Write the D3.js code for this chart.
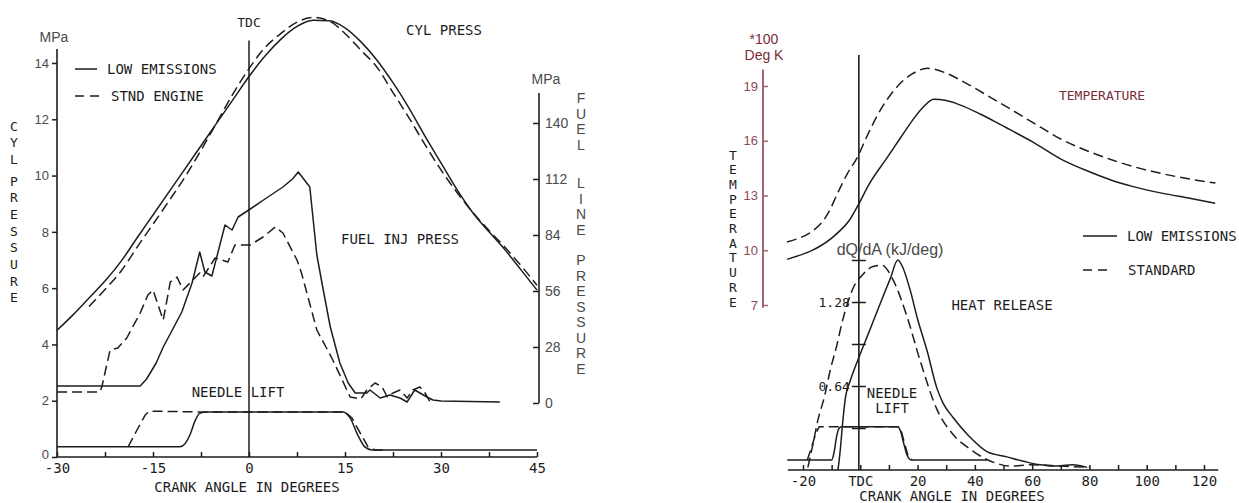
<!DOCTYPE html>
<html>
<head>
<meta charset="utf-8">
<script src="https://cdn.jsdelivr.net/npm/d3@7"></script>
<style>
  body { margin: 0; background: #fff; }
</style>
</head>
<body>
<script>
// ---------- left chart: cylinder / fuel line pressure ----------
var leftXTicks = [-30, -22.5, -15, -7.5, 0, 7.5, 15, 22.5, 30, 37.5, 45];
var cylTicks = [0, 2, 4, 6, 8, 10, 12, 14];
var fuelTicks = [0, 28, 56, 84, 112, 140];

// [crank angle deg, MPa]
var cylLow = [[-30,4.5],[-27.5,5.05],[-25,5.65],[-22.5,6.25],[-20,6.95],[-17.5,7.78],[-15,8.6],[-12.5,9.42],[-10,10.24],[-7.5,11.06],[-5,11.88],[-2.5,12.7],[0,13.52],[2.5,14.25],[5,14.85],[7.5,15.3],[10,15.52],[12.5,15.5],[15,15.25],[17.5,14.75],[20,14.1],[22.5,13.3],[25,12.4],[27.5,11.4],[30,10.45],[32.5,9.5],[35,8.67],[37.5,8.0],[40,7.36],[42.5,6.65],[45,5.93]];
var cylStd = [[-25,5.35],[-22.5,5.95],[-20,6.6],[-17.5,7.45],[-15,8.27],[-12.5,9.1],[-10,9.95],[-7.5,10.9],[-5,11.9],[-2.5,12.9],[0,13.8],[2.5,14.55],[5,15.05],[7.5,15.45],[10,15.62],[12.5,15.5],[15,15.05],[17.5,14.45],[20,13.85],[22.5,12.95],[25,12.05],[27.5,11.1],[30,10.2],[32.5,9.4],[35,8.68],[37.5,8.05],[40,7.45],[42.5,6.8],[45,6.1]];

// [crank angle deg, fuel line MPa]
var injLow = [[-30,8.5],[-17,8.5],[-16,12],[-14.5,20],[-13.4,28],[-11.9,37],[-10.5,45.5],[-8.9,60],[-7.7,75.5],[-6.9,65.5],[-5.8,63.5],[-3.75,89],[-2.65,86.5],[-1.7,93],[0.2,97],[2.5,102],[5.3,108],[6.8,112],[7.7,115.5],[9.5,108],[10.6,74],[11.4,60],[12.7,38],[14.2,20],[15.5,10],[16.6,5],[18.4,5],[18.9,6.5],[20.5,2.5],[22,4],[23.6,2.5],[24.7,0.5],[25.9,6.5],[27.8,3],[28.75,1.5],[30,1],[39.2,0.5]];
var injStd = [[-30,5.5],[-23.3,5.5],[-23,8],[-21.7,26.5],[-20.5,27.5],[-19.1,32.5],[-17,45],[-15.8,54],[-15,56.5],[-13.4,41.5],[-12.3,60.5],[-11.25,63],[-10.3,56.5],[-7.7,65],[-7.2,63],[-5.3,72.5],[-3.3,70.5],[-2.2,79],[0.2,79],[2.2,83],[4.1,88],[5.3,85],[7.5,71.5],[8.2,65],[10.6,36.5],[13.1,21.5],[15.8,3],[17.5,2],[18.4,6.5],[19.7,10],[20.8,8],[21.6,3],[22.5,5],[23.6,6.5],[24.7,2.5],[25.6,6.5],[26.7,8],[27.5,5],[28.6,-1]];

// needle lift, drawn in left-axis units
var needleLowL = [[-30,0.36],[-10.8,0.36],[-9.9,0.5],[-9.2,0.8],[-8.4,1.3],[-7.7,1.55],[-6.6,1.6],[14.7,1.6],[15.8,1.39],[17,0.78],[18.1,0.36],[19.2,0.25],[45,0.25]];
var needleStdL = [[-18.9,0.36],[-17.5,0.96],[-16.2,1.5],[-15.5,1.63],[-7.7,1.6],[15,1.6],[16.1,1.38],[17.3,0.88],[18.6,0.36],[19.7,0.25],[21,0.25]];

// ---------- right chart: temperature / heat release ----------
var rightXTicks = [-20, -10, 0, 10, 20, 30, 40, 50, 60, 70, 80, 90, 100, 110, 120];
var tempTicks = [7, 10, 13, 16, 19];
var heatTicks = [0.32, 0.64, 0.96, 1.28, 1.6];

// [crank angle deg, *100 K]
var tempLow = [[-25.6,9.5],[-8,10.94],[-4,11.6],[-1,12.4],[3,13.6],[9.5,15.1],[14,16.15],[18.6,17.2],[22,17.85],[25.6,18.27],[30,18.2],[35,17.95],[42,17.45],[47,17.05],[52.6,16.58],[60,15.95],[70.2,14.98],[80,14.3],[87.7,13.84],[95,13.5],[105.3,13.13],[115,12.85],[123.9,12.58]];
var tempStd = [[-25.6,10.45],[-13.3,11.54],[-11,12.1],[-8,13.1],[-4.5,14.2],[-1,15.1],[2.5,16.3],[6,17.4],[10,18.4],[14,19.15],[18,19.65],[23.5,19.97],[29.8,19.72],[35,19.32],[40,18.88],[45,18.42],[52.6,17.72],[60,17.02],[70.2,16.08],[80,15.4],[87.7,14.96],[95,14.6],[105.3,14.2],[115,13.9],[124,13.68]];

// [crank angle deg, kJ/deg]
var heatLow = [[-7.8,0],[-7,0.15],[-6.2,0.35],[-5.2,0.55],[-3.5,0.68],[-0.8,0.84],[3.4,1.07],[7.9,1.32],[10.5,1.46],[13.1,1.6],[14.5,1.56],[17.3,1.38],[20,1.15],[23.3,0.91],[26.8,0.62],[28.9,0.51],[32.4,0.4],[38.3,0.25],[44.2,0.14],[51.2,0.1],[58.2,0.06],[62.8,0.04],[67.3,0.03],[74.3,0.04],[79.2,0.02]];
var heatStd = [[-18.3,0.02],[-16.5,0.2],[-14.8,0.38],[-12.5,0.56],[-10.5,0.76],[-8.2,0.95],[-6.4,1.12],[-4.3,1.28],[-2.2,1.4],[0.5,1.48],[4.4,1.55],[7.6,1.56],[11.4,1.45],[16.3,1.17],[20.8,0.84],[26.8,0.46],[32.4,0.27],[38.3,0.16],[44.2,0.08],[47.7,0.05],[52,0.03],[60,0.04],[70,0.03],[80,0.02]];

// needle lift, drawn in heat-release units
var needleLowR = [[-25.5,0.076],[-10,0.076],[-9.2,0.13],[-8.3,0.25],[-7.6,0.31],[-6.6,0.33],[13,0.33],[14,0.3],[15.2,0.2],[16.4,0.11],[17.8,0.076],[44.2,0.076]];
var needleStdR = [[-18.5,0.076],[-17.2,0.16],[-15.5,0.28],[-14.3,0.33],[13.3,0.33],[14.4,0.29],[15.6,0.19],[16.8,0.1],[18.2,0.076]];

var ink = "#1d1d1d";
var gray = "#4a4a4a";
var red = "#7a2c38";
var redAxis = "#a06570";
var mono = "'DejaVu Sans Mono', 'Liberation Mono', monospace";
var sans = "'Liberation Sans', Arial, sans-serif";

var svg = d3.select("body").append("svg")
  .attr("width", 1239)
  .attr("height", 503);

// scales
var xL = d3.scaleLinear().domain([-30, 45]).range([57, 537]);
var yCyl = d3.scaleLinear().domain([0, 14]).range([457, 63]);
var yFuel = d3.scaleLinear().domain([0, 140]).range([403, 123]);
var xR = d3.scaleLinear().domain([-20, 120]).range([803, 1204]);
var yTemp = d3.scaleLinear().domain([7, 19]).range([305, 86]);
var yHeat = d3.scaleLinear().domain([0, 1.28]).range([470, 302]);

function addText(t, x, y, font, size, color, anchor){
  return svg.append("text")
    .text(t)
    .attr("x", x)
    .attr("y", y)
    .attr("font-family", font)
    .attr("font-size", size)
    .attr("fill", color)
    .attr("text-anchor", anchor || "start")
    .attr("dominant-baseline", "central");
}

// stacked letters, one word per start position
function vertText(words, starts, x, step, font, size, color){
  words.forEach(function(w, wi){
    for(var i=0; i<w.length; i++){
      addText(w[i], x, starts[wi] + i*step, font, size, color, "middle");
    }
  });
}

function drawLine(data, xs, ys, dash, curve, color, width){
  svg.append("path")
    .datum(data)
    .attr("d", d3.line()
      .x(function(d){ return xs(d[0]); })
      .y(function(d){ return ys(d[1]); })
      .curve(curve))
    .attr("fill", "none")
    .attr("stroke", color || ink)
    .attr("stroke-width", width || 1.5)
    .attr("stroke-dasharray", dash ? "10,5" : null)
    .attr("stroke-linejoin", "round");
}

function styleAxis(g, font, size, color, lineColor){
  g.attr("font-family", null).attr("font-size", null);
  g.selectAll("text")
    .attr("font-family", font)
    .attr("font-size", size)
    .attr("fill", color);
  g.selectAll("line")
    .attr("stroke", lineColor)
    .attr("stroke-width", 1.5);
  g.select(".domain").remove();
}

// ================= LEFT CHART =================
// x axis
var gxL = svg.append("g")
  .attr("transform", "translate(0," + yCyl(0) + ")")
  .call(d3.axisBottom(xL).tickValues(leftXTicks).tickSize(-5).tickSizeOuter(0).tickPadding(6)
    .tickFormat(function(d){ return d % 15 === 0 ? String(d) : ""; }));
styleAxis(gxL, mono, 14, ink, ink);
svg.append("line")
  .attr("x1", xL(-30)).attr("x2", xL(45))
  .attr("y1", yCyl(0)).attr("y2", yCyl(0))
  .attr("stroke", ink).attr("stroke-width", 1.6);

// left y axis
var gyL = svg.append("g")
  .attr("transform", "translate(" + xL(-30) + ",0)")
  .call(d3.axisLeft(yCyl).tickValues(cylTicks).tickSize(5).tickPadding(3).tickFormat(d3.format("d")));
styleAxis(gyL, sans, 13, gray, ink);
gyL.selectAll(".tick").filter(function(d){ return d === 0; }).select("text").attr("dy", "0.1em");
svg.append("line")
  .attr("x1", xL(-30)).attr("x2", xL(-30))
  .attr("y1", yCyl(14.5)).attr("y2", yCyl(0))
  .attr("stroke", ink).attr("stroke-width", 1.6);
addText("MPa", 54, 37, sans, 14, gray, "middle");

// right y axis (fuel line pressure)
var gyR = svg.append("g")
  .attr("transform", "translate(" + (xL(45) + 2) + ",0)")
  .call(d3.axisRight(yFuel).tickValues(fuelTicks).tickSize(-6).tickPadding(6).tickFormat(d3.format("d")));
styleAxis(gyR, sans, 14, gray, ink);
svg.append("line")
  .attr("x1", xL(45) + 2).attr("x2", xL(45) + 2)
  .attr("y1", yFuel(155)).attr("y2", yFuel(0))
  .attr("stroke", ink).attr("stroke-width", 1.6);
addText("MPa", 546, 79, sans, 14, gray, "middle");

// TDC line
svg.append("line")
  .attr("x1", xL(0)).attr("x2", xL(0))
  .attr("y1", yCyl(14.8)).attr("y2", yCyl(0))
  .attr("stroke", ink).attr("stroke-width", 1.5);
addText("TDC", xL(0), 22, mono, 13, ink, "middle");

// curves
drawLine(cylLow, xL, yCyl, false, d3.curveMonotoneX);
drawLine(cylStd, xL, yCyl, true, d3.curveMonotoneX);
drawLine(injLow, xL, yFuel, false, d3.curveLinear);
drawLine(injStd, xL, yFuel, true, d3.curveLinear);
drawLine(needleLowL, xL, yCyl, false, d3.curveMonotoneX);
drawLine(needleStdL, xL, yCyl, true, d3.curveLinear);

// labels
addText("CYL PRESS", 444, 30, mono, 14, ink, "middle");
addText("FUEL INJ PRESS", 400, 239, mono, 14, ink, "middle");
addText("NEEDLE LIFT", 238, 392, mono, 14, ink, "middle");
addText("CRANK ANGLE IN DEGREES", 247, 487, mono, 14, ink, "middle");
vertText(["CYL", "PRESSURE"], [126, 181], 14, 16.7, mono, 13, ink);
vertText(["FUEL", "LINE", "PRESSURE"], [98, 183, 260], 581, 15.5, sans, 14, gray);

// legend
svg.append("line").attr("x1", 75).attr("x2", 97).attr("y1", 69).attr("y2", 69)
  .attr("stroke", ink).attr("stroke-width", 1.5);
addText("LOW EMISSIONS", 107, 69, mono, 14, ink);
svg.append("line").attr("x1", 75).attr("x2", 100).attr("y1", 96).attr("y2", 96)
  .attr("stroke", ink).attr("stroke-width", 1.5).attr("stroke-dasharray", "9,6");
addText("STND ENGINE", 111, 96, mono, 14, ink);

// ================= RIGHT CHART =================
var gxR = svg.append("g")
  .attr("transform", "translate(0," + yHeat(0) + ")")
  .call(d3.axisBottom(xR).tickValues(rightXTicks).tickSize(-5).tickPadding(6)
    .tickFormat(function(d){ return d === 0 ? "TDC" : (d % 20 === 0 ? String(d) : ""); }));
styleAxis(gxR, mono, 14, ink, ink);
svg.append("line")
  .attr("x1", xR(-25.3)).attr("x2", xR(125))
  .attr("y1", yHeat(0)).attr("y2", yHeat(0))
  .attr("stroke", ink).attr("stroke-width", 1.6);

// temperature axis
var gyT = svg.append("g")
  .attr("transform", "translate(763,0)")
  .call(d3.axisLeft(yTemp).tickValues(tempTicks).tickSize(-5).tickPadding(5).tickFormat(d3.format("d")));
styleAxis(gyT, sans, 13, "#8a4a55", redAxis);
svg.append("line")
  .attr("x1", 763).attr("x2", 763)
  .attr("y1", yTemp(19.9)).attr("y2", yTemp(6.85))
  .attr("stroke", redAxis).attr("stroke-width", 2);
addText("*100", 764, 39, sans, 14, red, "middle");
addText("Deg K", 764, 55, sans, 14, red, "middle");

// TDC / heat release axis
svg.append("line")
  .attr("x1", xR(-0.5)).attr("x2", xR(-0.5))
  .attr("y1", yTemp(20.7)).attr("y2", yHeat(0))
  .attr("stroke", ink).attr("stroke-width", 1.6);
var gyH = svg.append("g")
  .attr("transform", "translate(" + xR(-0.5) + ",0)")
  .call(d3.axisLeft(yHeat).tickValues(heatTicks).tickSize(7).tickPadding(2)
    .tickFormat(function(d){ return (d === 0.64 || d === 1.28) ? d3.format(".2f")(d) : ""; }));
styleAxis(gyH, mono, 13, ink, ink);
var gyH2 = svg.append("g")
  .attr("transform", "translate(" + xR(-0.5) + ",0)")
  .call(d3.axisRight(yHeat).tickValues(heatTicks).tickSize(7).tickFormat(""));
styleAxis(gyH2, mono, 13, ink, ink);

// curves
drawLine(tempLow, xR, yTemp, false, d3.curveMonotoneX);
drawLine(tempStd, xR, yTemp, true, d3.curveMonotoneX);
drawLine(heatLow, xR, yHeat, false, d3.curveMonotoneX);
drawLine(heatStd, xR, yHeat, true, d3.curveMonotoneX);
drawLine(needleLowR, xR, yHeat, false, d3.curveMonotoneX);
drawLine(needleStdR, xR, yHeat, true, d3.curveLinear);

// labels
addText("TEMPERATURE", 1102, 95, mono, 13, red, "middle");
addText("dQ/dA (kJ/deg)", 890, 249, sans, 16, gray, "middle");
addText("HEAT RELEASE", 1002, 305, mono, 14, ink, "middle");
addText("NEEDLE", 892, 393, mono, 14, ink, "middle");
addText("LIFT", 892, 408, mono, 14, ink, "middle");
addText("CRANK ANGLE IN DEGREES", 952, 496, mono, 14, ink, "middle");
vertText(["TEMPERATURE"], [155], 733, 14.7, mono, 13, ink);

// legend
svg.append("line").attr("x1", 1083).attr("x2", 1117).attr("y1", 236).attr("y2", 236)
  .attr("stroke", ink).attr("stroke-width", 1.5);
addText("LOW EMISSIONS", 1127, 236, mono, 14, ink);
svg.append("line").attr("x1", 1083).attr("x2", 1108).attr("y1", 270).attr("y2", 270)
  .attr("stroke", ink).attr("stroke-width", 1.5).attr("stroke-dasharray", "9,6");
addText("STANDARD", 1128, 270, mono, 14, ink);
</script>
</body>
</html>
